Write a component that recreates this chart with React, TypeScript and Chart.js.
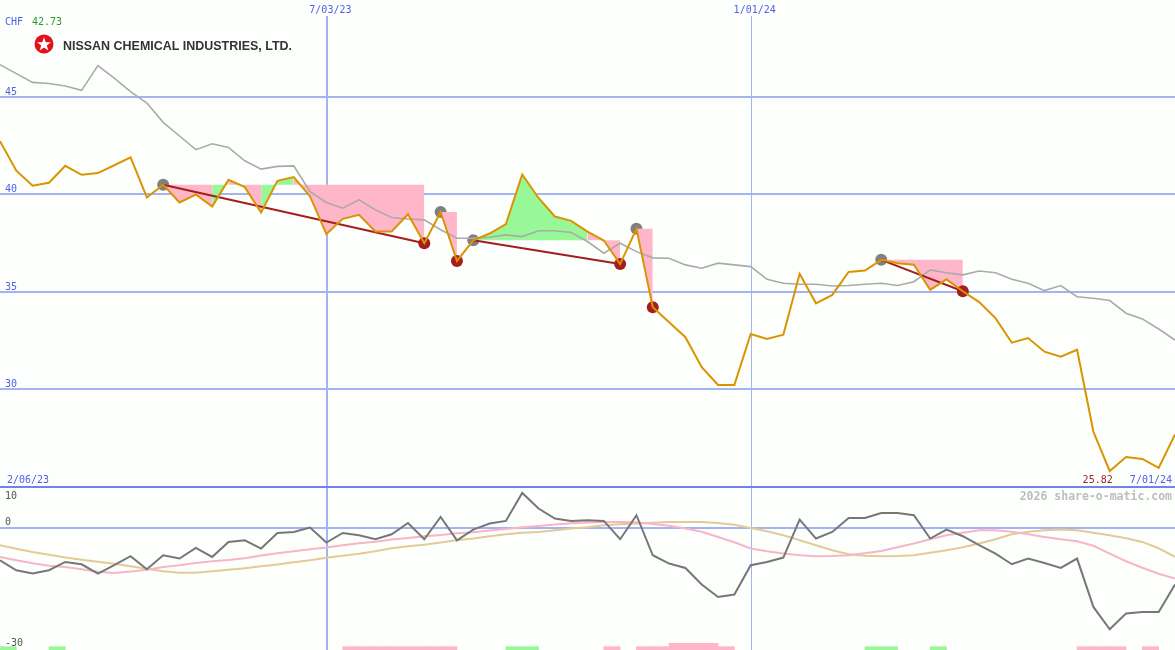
import React, { useEffect, useRef } from 'react';
import { Chart, registerables } from 'chart.js';

Chart.register(...registerables);

// ---------- text / categories ----------
const currency = 'CHF';
const lastPriceLabel = '42.73';
const companyName = 'NISSAN CHEMICAL INDUSTRIES, LTD.';
const startDate = '2/06/23';
const endDate = '7/01/24';
const minLabel = '25.82';
const minIndex = 68;
const watermark = '2026 share-o-matic.com';
const dateLineLabels = ['7/03/23', '1/01/24'];
const dateLineIndex = [20, 46];
const priceTicks = [30, 35, 40, 45];
const lowerTicks = [10, 0, -30];

// ---------- weekly series (index 0..72) ----------
const price = [
  42.73, 41.22, 40.45, 40.6, 41.47, 41.01, 41.1, 41.5, 41.9, 39.85,
  40.5, 39.59, 40.0, 39.38, 40.75, 40.38, 39.08, 40.7, 40.89, 39.9,
  37.97, 38.75, 38.96, 38.1, 38.1, 38.99, 37.5, 39.1, 36.59, 37.65,
  38.0, 38.48, 41.03, 39.82, 38.87, 38.65, 38.1, 37.64, 36.43, 38.24,
  34.22, 33.45, 32.68, 31.14, 30.23, 30.23, 32.85, 32.59, 32.81, 35.93,
  34.42, 34.85, 36.03, 36.1, 36.65, 36.48, 36.4, 35.11, 35.65, 35.04,
  34.48, 33.66, 32.4, 32.64, 31.94, 31.68, 32.04, 27.83, 25.82, 26.54,
  26.44, 25.98, 27.69,
];

const movingAvg = [
  46.66, 46.2, 45.75, 45.69, 45.56, 45.34, 46.61, 45.97, 45.27, 44.69,
  43.7, 43.0, 42.3, 42.6, 42.41, 41.73, 41.3, 41.44, 41.47, 40.15,
  39.59, 39.3, 39.73, 39.21, 38.82, 38.74, 38.7, 38.19, 37.76, 37.76,
  37.81, 37.93, 37.84, 38.14, 38.14, 38.05, 37.59, 36.99, 37.5, 37.07,
  36.75, 36.73, 36.39, 36.22, 36.48, 36.39, 36.3, 35.65, 35.45, 35.4,
  35.4, 35.31, 35.33, 35.4, 35.45, 35.33, 35.53, 36.13, 35.99, 35.88,
  36.08, 35.99, 35.65, 35.45, 35.07, 35.33, 34.76, 34.68, 34.56, 33.91,
  33.62, 33.1, 32.54,
];

const momentum = [
  -7.91, -10.37, -11.18, -10.37, -8.33, -8.9, -11.18, -9.14, -6.93, -10.12,
  -6.69, -7.5, -4.9, -7.1, -3.42, -3.01, -5.04, -1.21, -0.97, 0.11,
  -3.57, -1.21, -1.78, -2.76, -1.53, 1.24, -2.76, 2.71, -3.01, -0.38,
  1.09, 1.73, 8.6, 4.77, 2.32, 1.73, 1.9, 1.73, -2.76, 3.13,
  -6.69, -8.72, -9.8, -13.88, -16.92, -16.33, -9.14, -8.33, -7.25, 2.07,
  -2.59, -0.97, 2.47, 2.47, 3.69, 3.69, 3.13, -2.59, -0.38, -2.02,
  -4.23, -6.27, -8.9, -7.5, -8.58, -9.8, -7.5, -19.37, -24.85, -20.99,
  -20.6, -20.6, -13.88,
];

const signalFast = [
  -7.1, -7.91, -8.65, -9.26, -9.56, -10.12, -10.74, -11.03, -10.69, -10.25,
  -9.56, -9.14, -8.58, -8.16, -7.84, -7.42, -6.76, -6.2, -5.68, -5.21,
  -4.8, -4.23, -3.74, -3.37, -2.83, -2.44, -2.02, -1.71, -1.29, -1.04,
  -0.63, -0.23, 0.18, 0.5, 0.85, 1.17, 1.34, 1.48, 1.48, 1.44,
  0.99, 0.55, -0.13, -0.92, -2.2, -3.5, -5.04, -5.71, -6.27, -6.69,
  -6.93, -6.86, -6.69, -6.2, -5.63, -4.72, -3.82, -2.76, -1.78, -1.17,
  -0.55, -0.55, -0.92, -1.53, -2.2, -2.76, -3.25, -4.36, -6.27, -8.16,
  -9.75, -11.23, -12.4,
];

const signalSlow = [
  -4.23, -5.09, -5.88, -6.56, -7.25, -7.79, -8.28, -8.77, -9.39, -10.0,
  -10.61, -10.98, -10.98, -10.61, -10.25, -9.88, -9.39, -8.97, -8.4, -7.91,
  -7.3, -6.81, -6.32, -5.71, -4.97, -4.48, -4.11, -3.57, -3.01, -2.59,
  -2.02, -1.53, -1.17, -0.97, -0.55, -0.13, 0.18, 0.67, 0.92, 1.09,
  1.29, 1.48, 1.48, 1.48, 1.24, 0.8, 0.01, -0.8, -1.78, -3.01,
  -4.23, -5.46, -6.44, -6.81, -6.93, -6.88, -6.69, -6.07, -5.46, -4.72,
  -3.82, -2.76, -1.53, -0.92, -0.55, -0.38, -0.55, -1.17, -1.78, -2.52,
  -3.42, -4.97, -7.1,
];

// horizontal reference level of each drawdown zone (null = none)
const shadeLevel = [
  null, null, null, null, null, null, null, null, null, null,
  40.5, 40.5, 40.5, 40.5, 40.5, 40.5, 40.5, 40.5, 40.5, 40.5,
  40.5, 40.5, 40.5, 40.5, 40.5, 40.5, 40.5, 39.1, 39.1, 37.65,
  37.65, 37.65, 37.65, 37.65, 37.65, 37.65, 37.65, 37.65, 37.65, 38.24,
  38.24, null, null, null, null, null, null, null, null, null,
  null, null, null, null, 36.65, 36.65, 36.65, 36.65, 36.65, 36.65,
  null, null, null, null, null, null, null, null, null, null,
  null, null, null,
];

// colour of each week-segment of the zone: 1 = green, -1 = pink, 0 = none
const shadeSign = [
  0, 0, 0, 0, 0, 0, 0, 0, 0, 0,
  -1, -1, -1, 1, -1, -1, 1, 1, -1, -1,
  -1, -1, -1, -1, -1, -1, 0, -1, 0, 1,
  1, 1, 1, 1, 1, 1, -1, -1, 0, -1,
  0, 0, 0, 0, 0, 0, 0, 0, 0, 0,
  0, 0, 0, 0, -1, -1, -1, -1, -1, 0,
  0, 0, 0, 0, 0, 0, 0, 0, 0, 0,
  0, 0, 0,
];

const peakIndex = [10, 27, 29, 39, 54];
const troughIndex = [26, 28, 38, 40, 59];
const trendFrom = [10, 29, 54];
const trendTo = [26, 38, 59];

// bottom signal strip: 1 = green, -1 = pink, -2 = strong pink
const stripSignal = [
  1, 0, 0, 1, 0, 0, 0, 0, 0, 0,
  0, 0, 0, 0, 0, 0, 0, 0, 0, 0,
  0, -1, -1, -1, -1, -1, -1, -1, 0, 0,
  0, 1, 1, 0, 0, 0, 0, -1, 0, -1,
  -1, -2, -2, -2, -1, 0, 0, 0, 0, 0,
  0, 0, 0, 1, 1, 0, 0, 1, 0, 0,
  0, 0, 0, 0, 0, 0, -1, -1, -1, 0,
  -1, 0, 0,
];

// ---------- axis ranges ----------
const MAIN_MAX = 49.974;
const MAIN_MIN = 16.641;
const LOW_MAX = 129.57;
const LOW_MIN = -29.94;

const C = {
  bg: '#fdfffd',
  grid: '#a4b3f3',
  sep: '#7282ec',
  blue: '#4f5fe6',
  price: '#d99400',
  ma: '#aaaaaa',
  pink: '#ffb6c8',
  green: '#98f898',
  red: '#a51e1e',
  marker: '#808080',
  mom: '#777777',
  fast: '#f8b4c8',
  slow: '#e3ca98',
};

const MONO = '"DejaVu Sans Mono", monospace';

const overlayPlugin = {
  id: 'overlay',
  beforeDraw(chart: any) {
    const ctx = chart.ctx;
    ctx.save();
    ctx.fillStyle = C.bg;
    ctx.fillRect(0, 0, chart.width, chart.height);
    ctx.restore();
  },
  beforeDatasetsDraw(chart: any) {
    const ctx = chart.ctx;
    const { x, y, y2 } = chart.scales;
    const { left, right, bottom } = chart.chartArea;
    ctx.save();
    ctx.lineCap = 'butt';
    // price grid
    ctx.strokeStyle = C.grid;
    ctx.lineWidth = 2;
    for (const t of priceTicks) {
      const py = Math.round(y.getPixelForValue(t));
      ctx.beginPath();
      ctx.moveTo(left, py);
      ctx.lineTo(right, py);
      ctx.stroke();
    }
    // lower zero line
    const zy = Math.round(y2.getPixelForValue(0));
    ctx.beginPath();
    ctx.moveTo(left, zy);
    ctx.lineTo(right, zy);
    ctx.stroke();
    // vertical date lines
    dateLineIndex.forEach((idx, k) => {
      const px = x.getPixelForValue(idx);
      ctx.lineWidth = k === 0 ? 2 : 1;
      const xx = k === 0 ? Math.floor(px) + 1 : Math.round(px) + 0.5;
      ctx.beginPath();
      ctx.moveTo(xx, 16);
      ctx.lineTo(xx, bottom);
      ctx.stroke();
    });
    // separator between panels
    ctx.strokeStyle = C.sep;
    ctx.lineWidth = 2;
    const sy = Math.round(y.getPixelForValue(25));
    ctx.beginPath();
    ctx.moveTo(left, sy);
    ctx.lineTo(right, sy);
    ctx.stroke();
    ctx.restore();
  },
  afterDatasetsDraw(chart: any) {
    const ctx = chart.ctx;
    const { x, y, y2 } = chart.scales;
    ctx.save();
    ctx.font = `10px ${MONO}`;
    ctx.textBaseline = 'alphabetic';
    // price axis labels
    ctx.fillStyle = C.blue;
    ctx.textAlign = 'left';
    for (const t of priceTicks) {
      ctx.fillText(String(t), 5, Math.round(y.getPixelForValue(t)) - 2);
    }
    // top date labels
    ctx.textAlign = 'center';
    dateLineIndex.forEach((idx, k) => {
      ctx.fillText(dateLineLabels[k], x.getPixelForValue(idx) + 4, 13);
    });
    // header
    ctx.textAlign = 'left';
    ctx.fillText(currency, 5, 25);
    ctx.fillStyle = '#2a9a2a';
    ctx.fillText(lastPriceLabel, 32, 25);
    // bottom of price panel
    const by = Math.round(y.getPixelForValue(25)) - 4;
    ctx.fillStyle = C.blue;
    ctx.fillText(startDate, 7, by);
    ctx.textAlign = 'right';
    ctx.fillText(endDate, 1172, by);
    ctx.fillStyle = '#a02424';
    ctx.fillText(minLabel, x.getPixelForValue(minIndex) + 3, by);
    // lower panel labels
    ctx.textAlign = 'left';
    ctx.fillStyle = '#555555';
    ctx.fillText(String(lowerTicks[0]), 5, y2.getPixelForValue(lowerTicks[0]) + 12);
    ctx.fillText(String(lowerTicks[1]), 5, y2.getPixelForValue(lowerTicks[1]) - 3);
    ctx.fillText(String(lowerTicks[2]), 5, y2.getPixelForValue(lowerTicks[2]) - 4);
    // watermark
    ctx.font = `bold 11.5px ${MONO}`;
    ctx.fillStyle = '#bdbdbd';
    ctx.textAlign = 'right';
    ctx.fillText(watermark, 1172, 500);
    // logo
    ctx.fillStyle = '#e3101c';
    ctx.beginPath();
    ctx.arc(44, 44, 9.5, 0, Math.PI * 2);
    ctx.fill();
    ctx.fillStyle = '#ffffff';
    ctx.beginPath();
    for (let k = 0; k < 10; k++) {
      const r = k % 2 === 0 ? 7.3 : 3.0;
      const a = -Math.PI / 2 + (k * Math.PI) / 5;
      const px = 44 + r * Math.cos(a);
      const py = 44.6 + r * Math.sin(a);
      if (k === 0) ctx.moveTo(px, py);
      else ctx.lineTo(px, py);
    }
    ctx.closePath();
    ctx.fill();
    ctx.font = 'bold 13px "Liberation Sans", Arial, sans-serif';
    ctx.fillStyle = '#333333';
    ctx.textAlign = 'left';
    const w = ctx.measureText(companyName).width;
    ctx.translate(63, 49.5);
    ctx.scale(229 / w, 1);
    ctx.fillText(companyName, 0, 0);
    ctx.restore();
  },
};

const pts = (arr: (number | null)[]) => arr.map((v, i) => ({ x: i, y: v }));

export default function App() {
  const ref = useRef<HTMLCanvasElement | null>(null);

  useEffect(() => {
    if (!ref.current) return;

    const trendData: any[] = [];
    trendFrom.forEach((a, k) => {
      const b = trendTo[k];
      trendData.push({ x: a, y: price[a] });
      trendData.push({ x: b, y: price[b] });
      trendData.push({ x: b + 0.5, y: null });
    });

    const shadeColor = (s: number) =>
      s > 0 ? C.green : s < 0 ? C.pink : 'rgba(0,0,0,0)';

    const chart = new Chart(ref.current, {
      type: 'line',
      data: {
        datasets: [
          {
            label: 'price',
            data: pts(price),
            borderColor: C.price,
            borderWidth: 2,
            pointRadius: 0,
            order: 1,
            yAxisID: 'y',
          },
          {
            label: 'troughs',
            data: troughIndex.map((i) => ({ x: i, y: price[i] })),
            showLine: false,
            pointRadius: 6,
            pointBackgroundColor: C.red,
            pointBorderWidth: 0,
            order: 2,
            yAxisID: 'y',
          },
          {
            label: 'trend',
            data: trendData,
            borderColor: C.red,
            borderWidth: 2,
            pointRadius: 0,
            spanGaps: false,
            order: 3,
            yAxisID: 'y',
          },
          {
            label: 'average',
            data: pts(movingAvg),
            borderColor: C.ma,
            borderWidth: 1.6,
            pointRadius: 0,
            order: 4,
            yAxisID: 'y',
          },
          {
            label: 'zones',
            data: pts(shadeLevel),
            borderColor: 'rgba(0,0,0,0)',
            backgroundColor: C.pink,
            borderWidth: 1,
            pointRadius: 0,
            spanGaps: false,
            fill: { target: 0 },
            segment: {
              backgroundColor: (c: any) => shadeColor(shadeSign[c.p0DataIndex]),
            },
            order: 5,
            yAxisID: 'y',
          },
          {
            label: 'peaks',
            data: peakIndex.map((i) => ({ x: i, y: price[i] })),
            showLine: false,
            pointRadius: 6,
            pointBackgroundColor: C.marker,
            pointBorderWidth: 0,
            order: 6,
            yAxisID: 'y',
          },
          {
            label: 'momentum',
            data: pts(momentum),
            borderColor: C.mom,
            borderWidth: 2,
            pointRadius: 0,
            order: 7,
            yAxisID: 'y2',
          },
          {
            label: 'fast',
            data: pts(signalFast),
            borderColor: C.fast,
            borderWidth: 2,
            pointRadius: 0,
            order: 8,
            yAxisID: 'y2',
          },
          {
            label: 'slow',
            data: pts(signalSlow),
            borderColor: C.slow,
            borderWidth: 2,
            pointRadius: 0,
            order: 9,
            yAxisID: 'y2',
          },
          {
            type: 'bar',
            label: 'strip',
            data: stripSignal.map((s, i) => ({
              x: i + 0.5,
              y: s === 0 ? null : [LOW_MIN, LOW_MIN + Math.abs(s) * 0.82],
            })),
            backgroundColor: (c: any) => (stripSignal[c.dataIndex] > 0 ? C.green : C.pink),
            barPercentage: 1,
            categoryPercentage: 1,
            borderWidth: 0,
            order: 10,
            yAxisID: 'y2',
          } as any,
        ],
      },
      options: {
        responsive: false,
        animation: false,
        devicePixelRatio: 1,
        events: [],
        layout: { padding: 0, autoPadding: false },
        elements: { line: { tension: 0 } },
        plugins: {
          legend: { display: false },
          tooltip: { enabled: false },
        },
        scales: {
          x: { type: 'linear', min: 0, max: 72, display: false, offset: false },
          y: { type: 'linear', min: MAIN_MIN, max: MAIN_MAX, display: false },
          y2: { type: 'linear', min: LOW_MIN, max: LOW_MAX, display: false },
        },
      },
      plugins: [overlayPlugin],
    } as any);

    return () => chart.destroy();
  }, []);

  return (
    <div style={{ position: 'absolute', left: 0, top: 0, width: 1175, height: 650 }}>
      <canvas ref={ref} width={1175} height={650} style={{ display: 'block' }} />
    </div>
  );
}
